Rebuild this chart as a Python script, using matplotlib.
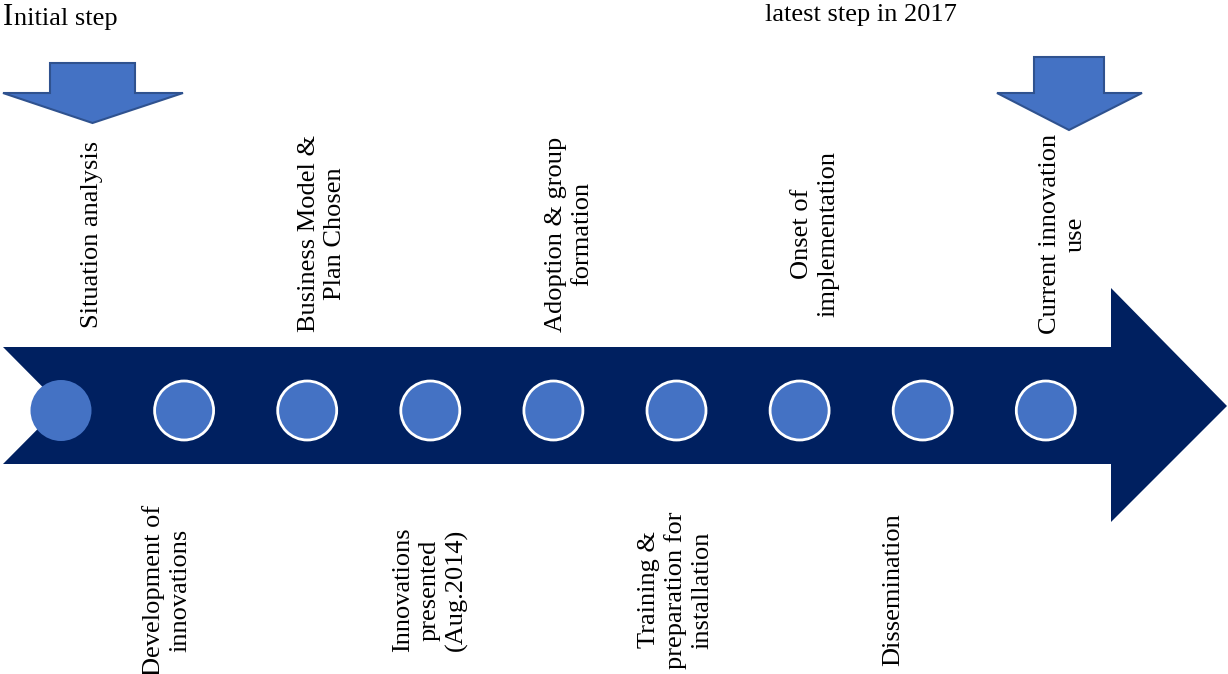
import numpy as np
import matplotlib.pyplot as plt
from matplotlib.patches import Polygon, Circle

# steps along the timeline, in order
steps = ["Situation analysis", "Development of\ninnovations", "Business Model &\nPlan Chosen",
         "Innovations\npresented\n(Aug.2014)", "Adoption & group\nformation",
         "Training &\npreparation for\ninstallation", "Onset of\nimplementation",
         "Dissemination", "Current innovation\nuse"]
start_label = "Initial step"
end_label = "latest step in 2017"

# layout (pixel coords of a 1228x674 canvas)
x0, dx = 61, 123.1
label_shift = [31, -17, 15, 0, 16, -1, 16, -29, 17]
navy = '#002060'
blue = '#4472C4'
edge = '#2F528F'

plt.rcParams['font.family'] = ['Liberation Serif', 'DejaVu Serif']
fig = plt.figure(figsize=(12.28, 6.74), dpi=100)
ax = fig.add_axes([0, 0, 1, 1])
ax.set_xlim(0, 1228)
ax.set_ylim(674, 0)
ax.axis('off')

# big timeline arrow with notched tail
arrow = [(3, 347), (1111, 347), (1111, 288), (1227, 406), (1111, 522),
         (1111, 464), (3, 464), (61, 405.5)]
ax.add_patch(Polygon(arrow, closed=True, fc=navy, ec='none'))

# circles
for i in range(len(steps)):
    cx = x0 + dx * i
    if i == 0:
        ax.add_patch(Circle((cx, 410.5), 30.5, fc=blue, ec='none', zorder=3))
    else:
        ax.add_patch(Circle((cx, 410.5), 29.5, fc=blue, ec='white', lw=2, zorder=3))

# down arrows
def down_arrow(xl, xr, top, neck, hl, hr, tip):
    pts = [(xl, top), (xr, top), (xr, neck), (hr, neck), ((xl + xr) / 2, tip),
           (hl, neck), (xl, neck)]
    ax.add_patch(Polygon(pts, closed=True, fc=blue, ec=edge, lw=1.5, zorder=3))

down_arrow(50, 135, 63, 93, 3, 183, 123)
down_arrow(1034, 1104, 57, 93, 997, 1142, 130)

fs = 19
ax.text(3, 25, start_label[0], fontsize=22, ha='left', va='baseline')
ax.text(14, 25, start_label[1:], fontsize=fs, ha='left', va='baseline')
ax.text(861, 15, end_label, fontsize=fs, ha='center', va='center')

for i, s in enumerate(steps):
    cx = x0 + dx * i + label_shift[i]
    cy = 234 if i % 2 == 0 else 590
    ax.text(cx, cy, s, fontsize=fs, rotation=90, ha='center', va='center',
            multialignment='center', linespacing=1.25)

fig.savefig('out.png', dpi=100)
